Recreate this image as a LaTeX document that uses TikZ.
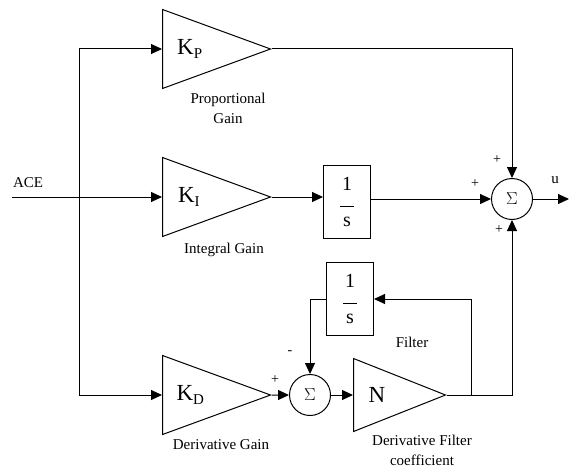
\documentclass[tikz,border=0pt]{standalone}
\usepackage{fontspec}
\setmainfont{Liberation Serif}
\usepackage{tikz}
\usetikzlibrary{arrows.meta,positioning,shapes.geometric}

\newcommand{\kgain}[1]{K\raisebox{-0.35ex}{\fontsize{15}{15}\selectfont #1}}

\begin{document}
\begin{tikzpicture}[
  x=1pt,y=-1pt,
  amp/.style={draw,isosceles triangle,isosceles triangle stretches,shape border rotate=0,minimum width=79pt,minimum height=108pt,inner sep=0pt,line width=1pt,font=\fontsize{23}{23}\selectfont},
  blk/.style={draw,rectangle,minimum width=47pt,minimum height=73pt,inner sep=0pt,align=center,line width=1pt,font=\fontsize{20}{22}\selectfont},
  sum/.style={draw,circle,minimum size=41pt,inner sep=0pt,line width=1pt,font=\fontsize{16}{16}\selectfont},
  lbl/.style={align=center,inner sep=0pt,font=\fontsize{15}{20}\selectfont},
  sgn/.style={inner sep=0pt,font=\fontsize{14}{14}\selectfont},
  arr/.style={-{Triangle[length=11pt,width=10pt]},line width=1pt}
]
\useasboundingbox (0,0) rectangle (569,468);

% gains
\node[amp,anchor=west] (kp) at (162,49) {\kgain{P}};
\node[amp,anchor=west] (ki) at (162,197) {\kgain{I}};
\node[amp,anchor=west] (kd) at (162,395) {\kgain{D}};
\node[amp,anchor=west,minimum width=73pt,minimum height=92pt] (nf) at (353,395) {N};

% integrators and summers
\node[blk] (intg) at (347,202) {1\\[-6pt]\rule{14pt}{1pt}\\[-2pt]s};
\node[blk] (filt) at (350,299) {1\\[-6pt]\rule{14pt}{1pt}\\[-2pt]s};
\node[sum] (s1) at (512,199) {$\Sigma$};
\node[sum] (s2) at (310,395) {$\Sigma$};

% texts
\node[lbl] (ace) at (28,183) {ACE};
\node[lbl] (ul) at (555,180) {u};
\node[lbl] (kpl) at (228,108) {Proportional\\Gain};
\node[lbl] (kil) at (224,250) {Integral Gain};
\node[lbl] (kdl) at (221,445) {Derivative Gain};
\node[lbl] (fl) at (412,342) {Filter};
\node[lbl] (nfl) at (422,450) {Derivative Filter\\coefficient};
\node[sgn] (sp1) at (497,160) {+};
\node[sgn] (sp2) at (475,184) {+};
\node[sgn] (sp3) at (499,230) {+};
\node[sgn] (sp4) at (275,380) {+};
\node[sgn] (sm1) at (290,353) {-};

\coordinate (in) at (12,197);
\coordinate (tap) at (79,197);
\coordinate (br) at (471,395);
\coordinate (out) at (569,199);

\draw[arr] (in) -- (ki.west);
\draw[arr] (tap) |- (kp.west);
\draw[arr] (tap) |- (kd.west);
\draw[arr] (ki.east) -- (intg.west |- ki.east);
\draw[arr] (intg.east |- s1) -- (s1);
\draw[arr] (kp.east) -| (s1);
\draw[arr] (s1) -- (out);
\draw[arr] (kd.east) -- (s2);
\draw[arr] (s2) -- (nf.west);
\draw[arr] (nf.east) -| (s1);
\draw[arr] (br) |- (filt.east);
\draw[arr] (filt.west) -| (s2);

\end{tikzpicture}
\end{document}
